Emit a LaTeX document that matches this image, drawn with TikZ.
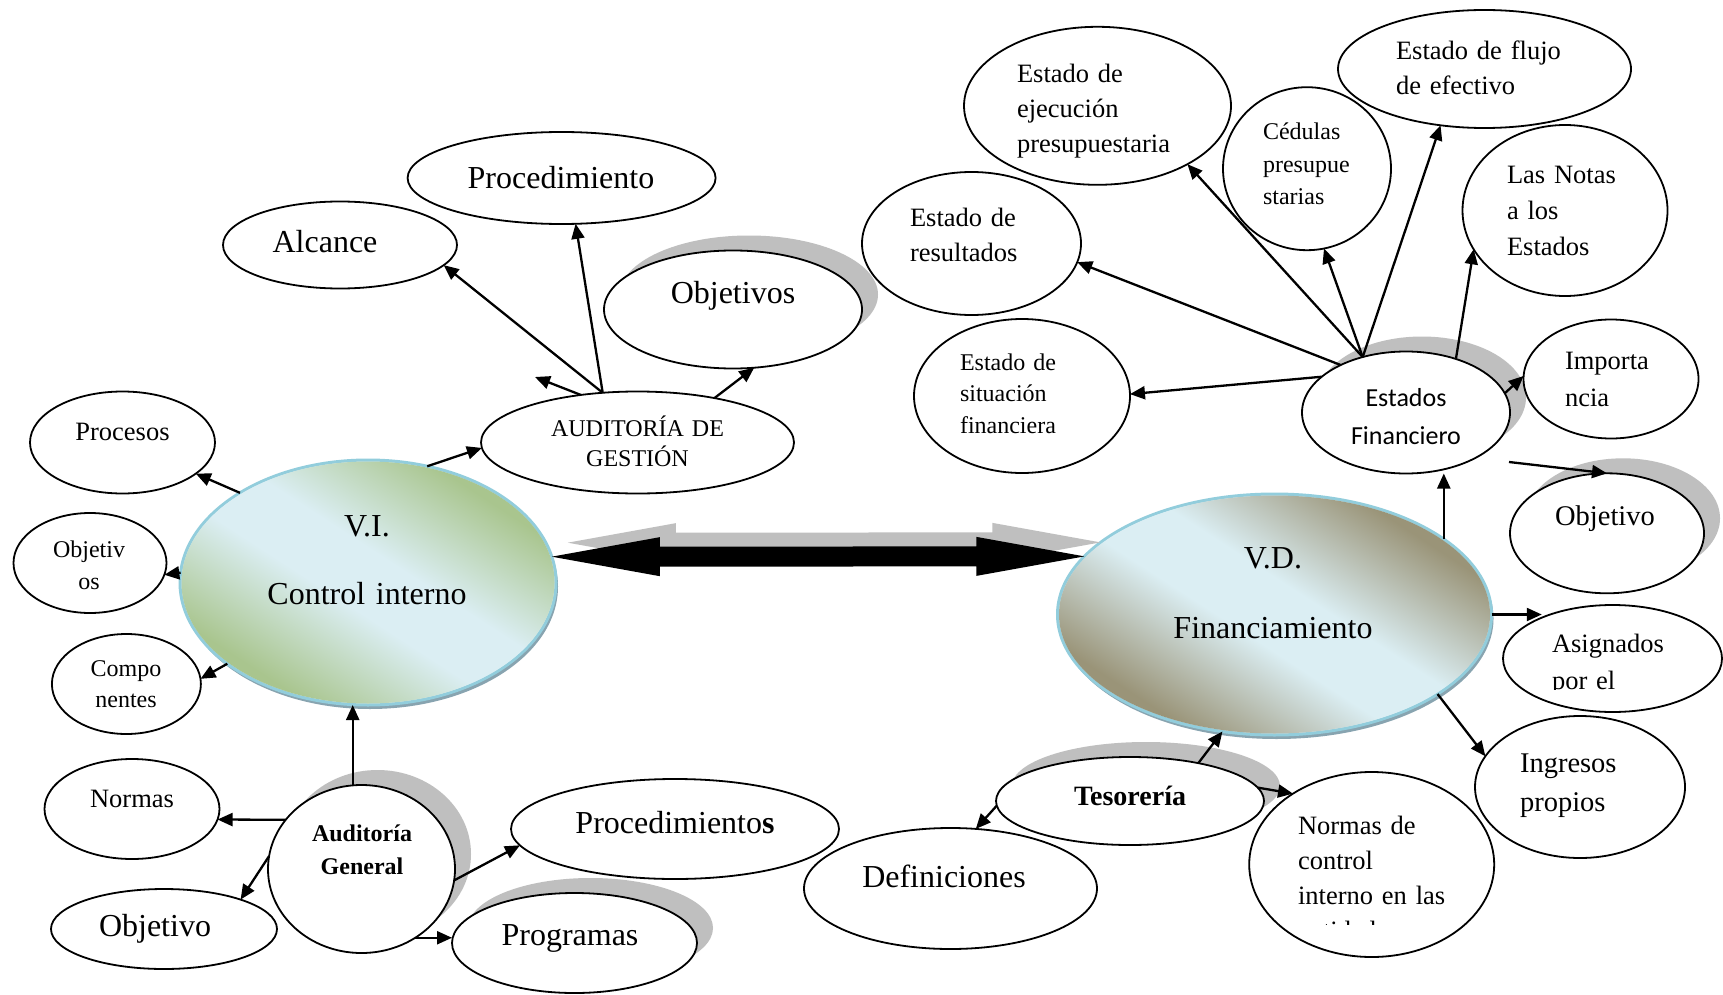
\documentclass[tikz,border=0pt]{standalone}
\usepackage{fontspec}
\setmainfont{Liberation Serif}
\newfontfamily\calibrilike{Carlito}
\usetikzlibrary{shapes.geometric,arrows.meta}

\definecolor{shadowgray}{HTML}{BFBFBF}
\definecolor{viGreen}{HTML}{A9C58E}
\definecolor{paleBlue}{HTML}{DBEEF3}
\definecolor{vdTan}{HTML}{9A9478}
\definecolor{rimBlue}{HTML}{92CDDC}
\definecolor{rimShade}{HTML}{88A4B0}
\colorlet{edgetint}{viGreen}

% pale band across the middle, tinted towards both ends
\pgfdeclareverticalshading[edgetint,paleBlue]{twotone}{100bp}{%
  color(0bp)=(edgetint); color(27bp)=(edgetint); color(45bp)=(paleBlue);
  color(55bp)=(paleBlue); color(73bp)=(edgetint); color(100bp)=(edgetint)}

\newcommand{\fsz}[2]{\fontsize{#1}{#2}\selectfont}

\begin{document}
\begin{tikzpicture}[x=1pt,y=-1pt,
  bubble/.style={draw, ellipse, fill=white, line width=1.8pt, inner sep=0pt, outer sep=0pt},
  raised/.style={preaction={fill=shadowgray, transform canvas={xshift=16pt,yshift=15pt}}},
  mainvar/.style={ellipse, inner sep=0pt, outer sep=0pt, draw=rimBlue, line width=3pt, fill=paleBlue,
     preaction={fill=rimShade, transform canvas={xshift=2pt,yshift=-4pt}}},
  arr/.style={line width=2.3pt, -{Triangle[length=15pt,width=13pt]}},
  lbl/.style={inner sep=0pt, outer sep=0pt, anchor=base},
  lblL/.style={inner sep=0pt, outer sep=0pt, anchor=base west, text width=240pt, align=left},
  lblC/.style={inner sep=0pt, outer sep=0pt, anchor=base, text width=#1, align=center}
]
\useasboundingbox (0,0) rectangle (1723,995);
\fill[white] (0,0) rectangle (1723,995);

% bubbles with a drop shadow
\node[bubble, raised, minimum width=258pt, minimum height=118pt] (objt) at (733,309.5) {};
\node[bubble, raised, minimum width=187pt, minimum height=168pt] (ag) at (361.5,869) {};
\node[bubble, raised, minimum width=245pt, minimum height=100pt] (prg) at (574.5,943) {};
\node[bubble, raised, minimum width=208pt, minimum height=122pt] (ef) at (1406,412.5) {};
\node[bubble, raised, minimum width=194pt, minimum height=120pt] (objr) at (1607,533.3) {};
\node[bubble, raised, minimum width=268pt, minimum height=88pt] (tes) at (1130,801) {};

% the two variables, with a diagonal tint inside the rim
\node[mainvar, minimum width=376pt, minimum height=245pt] (vi) at (368,582.5) {};
\node[mainvar, minimum width=434pt, minimum height=241pt] (vd) at (1274.5,614.5) {};
\colorlet{edgetint}{viGreen}
\begin{scope}
  \clip (vi.center) ellipse [x radius=186.5, y radius=121];
  \shade[shading=twotone, transform canvas={rotate around={-33:(vi.center)}}]
    ([shift={(-210,-146)}]vi.center) rectangle ([shift={(210,146)}]vi.center);
\end{scope}
\colorlet{edgetint}{vdTan}
\begin{scope}
  \clip (vd.center) ellipse [x radius=215.5, y radius=119];
  \shade[shading=twotone, transform canvas={rotate around={-33:(vd.center)}}]
    ([shift={(-240,-156)}]vd.center) rectangle ([shift={(240,156)}]vd.center);
\end{scope}

% plain bubbles
\node[bubble, minimum width=185pt, minimum height=102pt] (proc) at (122.5,442.5) {};
\node[bubble, minimum width=153pt, minimum height=100pt] (objl) at (90,563) {};
\node[bubble, minimum width=149pt, minimum height=100pt] (comp) at (126.4,684) {};
\node[bubble, minimum width=313pt, minimum height=102pt] (aud) at (637.5,442.5) {};
\node[bubble, minimum width=234pt, minimum height=87pt] (alc) at (340,245) {};
\node[bubble, minimum width=308pt, minimum height=92pt] (prc) at (561.6,178) {};
\node[bubble, minimum width=175pt, minimum height=100pt] (norm) at (132,809) {};
\node[bubble, minimum width=226pt, minimum height=80pt] (objb) at (164,929) {};
\node[bubble, minimum width=328pt, minimum height=100pt] (prs) at (675,829) {};
\node[bubble, minimum width=175pt, minimum height=119pt] (imp) at (1611,379) {};
\node[bubble, minimum width=219pt, minimum height=107pt] (asg) at (1612.5,658.5) {};
\node[bubble, minimum width=210pt, minimum height=142pt] (ing) at (1580,787) {};
\node[bubble, minimum width=293pt, minimum height=121pt] (def) at (950.5,888.5) {};
\node[bubble, minimum width=245pt, minimum height=185pt] (ncon) at (1371.7,864.5) {};
\node[bubble, minimum width=216pt, minimum height=154pt] (sit) at (1022,396) {};
\node[bubble, minimum width=219pt, minimum height=143pt] (res) at (971.5,243.5) {};
\node[bubble, minimum width=267pt, minimum height=158pt] (eje) at (1097.5,105.8) {};
\node[bubble, minimum width=168pt, minimum height=163pt] (ced) at (1307,168.7) {};
\node[bubble, minimum width=293pt, minimum height=118pt] (flu) at (1484.5,69) {};
\node[bubble, minimum width=205pt, minimum height=171pt] (not) at (1565,210.5) {};

% labels
\node[lbl, font=\fsz{26.5}{32}] (t-proc) at (122.5,440) {Procesos};
\node[lblC=120pt, font=\fsz{24}{32}] (t-objl) at (89,557) {Objetiv\\os};
\node[lblC=120pt, font=\fsz{24}{31}] (t-comp) at (126,676) {Compo\\nentes};
\node[lblC=320pt, font=\fsz{32}{68}] (t-vi) at (367,536) {V.I.\\Control interno};
\node[lblC=260pt, font=\fsz{24}{30}] (t-aud) at (637.5,436) {AUDITORÍA DE\\GESTIÓN};
\node[lbl, font=\fsz{32}{38}] (t-alc) at (325,252) {Alcance};
\node[lbl, font=\fsz{32}{38}] (t-prc) at (561,189) {Procedimiento};
\node[lbl, font=\fsz{32}{38}] (t-objt) at (733,303) {Objetivos};
\node[lbl, font=\fsz{26.5}{32}] (t-norm) at (132,807) {Normas};
\node[lblC=150pt, font=\fsz{24}{33}\bfseries] (t-ag) at (362,841) {Auditoría\\General};
\node[lbl, font=\fsz{32}{38}] (t-objb) at (155,936) {Objetivo};
\node[lbl, font=\fsz{32}{38}] (t-prs) at (675,833) {Procedimiento\textbf{s}};
\node[lbl, font=\fsz{32}{38}] (t-prg) at (570,945) {Programas};
\node[lblC=320pt, font=\fsz{32}{70}] (t-vd) at (1273,568) {V.D.\\Financiamiento};
\node[lblC=180pt, font=\calibrilike\fsz{26}{38}] (t-ef) at (1406,406) {Estados\\Financiero};
\node[lblL, font=\fsz{24}{31.5}] (t-sit) at (960,370) {Estado de\\situación\\financiera};
\node[lblL, font=\fsz{26.5}{35}] (t-res) at (910,226) {Estado de\\resultados};
\node[lblL, font=\fsz{26.5}{35}] (t-eje) at (1017,83) {Estado de\\ejecución\\presupuestaria};
\node[lblL, font=\fsz{24}{32.5}] (t-ced) at (1263,140) {Cédulas\\presupue\\starias};
\node[lblL, font=\fsz{26.5}{35}] (t-flu) at (1396,60) {Estado de flujo\\de efectivo};
\node[lblL, font=\fsz{26.5}{35.5}] (t-not) at (1507,184) {Las Notas\\a los\\Estados};
\node[lblL, font=\fsz{26.5}{37}] (t-imp) at (1565,369) {Importa\\ncia};
\node[lbl, font=\fsz{28.5}{34}] (t-objr) at (1605,525) {Objetivo};
\begin{scope}
  \clip (1500,600) rectangle (1723,689);
  \node[lblL, font=\fsz{26.5}{37}] (t-asg) at (1552,652) {Asignados\\por el};
\end{scope}
\node[lblL, font=\fsz{28.5}{39}] (t-ing) at (1520,772) {Ingresos\\propios};
\node[lbl, font=\fsz{28}{34}\bfseries] (t-tes) at (1130,805) {Tesorería};
\node[lbl, font=\fsz{32}{38}] (t-def) at (944,887) {Definiciones};
\begin{scope}
  \clip (1250,780) rectangle (1495,924);
  \node[lblL, font=\fsz{26.5}{35}] (t-ncon) at (1298,834) {Normas de\\control\\interno en las\\entidades};
\end{scope}

% loose arrow ends
\coordinate (stray) at (535,377);
\coordinate (efo) at (1509,462);

% the double arrow between the variables, with its shadow
\foreach \col/\dx/\dy in {shadowgray/16/14, black/0/0} {
  \fill[\col, transform canvas={xshift=\dx pt, yshift=\dy pt}]
    (vi.8) -- ([xshift=108pt,yshift=19.5pt]vi.8) -- ([xshift=108pt,yshift=10pt]vi.8)
    -- ([xshift=-108pt,yshift=10pt]vd.163) -- ([xshift=-108pt,yshift=19.5pt]vd.163)
    -- (vd.163) -- ([xshift=-108pt,yshift=-19.5pt]vd.163) -- ([xshift=-108pt,yshift=-10pt]vd.163)
    -- ([xshift=108pt,yshift=-10pt]vi.8) -- ([xshift=108pt,yshift=-19.5pt]vi.8) -- cycle;
}

% connectors around V.I.
\draw[arr] (vi.145) -- (proc.-23);
\draw[arr] (vi.177) -- (objl.-9);
\draw[arr] (vi.-150) -- (comp.4);
\draw[arr] (vi.63) -- (aud.182);
\draw[arr] (ag.96) -- (ag.96 |- vi.south);

% connectors from the management audit
\draw[arr] (aud.125) -- (alc.-11);
\draw[arr] (aud.125) -- (prc.-73);
\draw[arr] (aud.140) -- (stray);
\draw[arr] (aud.30) -- (objt.-70);

% connectors from the general audit
\draw[arr] (ag.147) -- (norm.-7);
\draw[arr] (ag.172) -- (objb.21);
\draw[arr] (ag.-7) -- (prs.186);
\draw[arr] (ag.-52) -- (ag.-52 -| prg.west);

% connectors around V.D.
\draw[arr] (vd.24) -- (vd.24 |- ef.south);
\draw[arr] (vd.east) -- (vd.east -| asg.150);
\draw[arr] (vd.-26) -- (ing.162);
\draw[arr] (tes.29) -- (vd.-114);
\draw[arr] (tes.6) -- (ncon.138);
\draw[arr] (tes.182) -- (def.67);

% connectors from the financial statements
\draw[arr] (ef.157) -- (sit.1);
\draw[arr] (ef.144) -- (res.-10);
\draw[arr] (ef.128) -- (eje.-33);
\draw[arr] (ef.128) -- (ced.-78);
\draw[arr] (ef.128) -- (flu.-128);
\draw[arr] (ef.47) -- (not.-157);
\draw[arr] (ef.11) -- (imp.178);
\draw[arr] (efo) -- (objr.north);
\end{tikzpicture}
\end{document}
